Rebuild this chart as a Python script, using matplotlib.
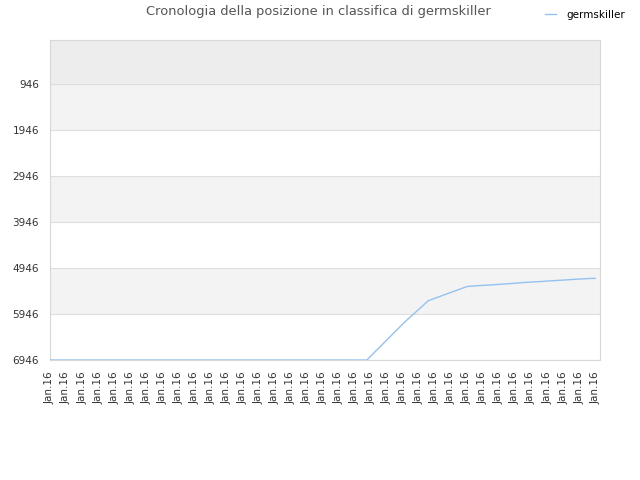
import matplotlib
matplotlib.use("Agg")
import matplotlib.pyplot as plt

# rank history (lower is better), x in tick units
pos_x = [0, 19.76, 22.15, 23.6, 26.0, 26.5, 27.55, 28.5, 29.5, 30.57, 31.5, 32.5, 33.56, 34.0]
rank = [6946, 6946, 6113, 5657, 5352, 5337, 5315, 5293, 5265, 5243, 5222, 5200, 5178, 5174]
tick_labels = ["Jan.16"] * 35
y_ticks = [946, 1946, 2946, 3946, 4946, 5946, 6946]

fig = plt.figure(figsize=(6.4, 4.8), dpi=100)
ax = fig.add_axes([50/640, 0.25, 550/640, 320/480])

# background bands
ax.axhspan(0, 946, color="#ededed", zorder=0, lw=0)
for lo in [946, 2946, 4946]:
    ax.axhspan(lo, lo + 1000, color="#f3f3f3", zorder=0, lw=0)
for y in y_ticks:
    ax.axhline(y, color="#dedede", lw=0.8, zorder=1)

ax.plot(pos_x, rank, color="#93c2f2", lw=1, label="germskiller", zorder=3)

ax.set_xlim(0, 34.3)
ax.set_ylim(6946, 0)
ax.set_yticks(y_ticks)
ax.set_yticklabels([str(v) for v in y_ticks])
ax.set_xticks(range(len(tick_labels)))
ax.set_xticklabels(tick_labels, rotation=90)
ax.tick_params(length=0, labelsize=7.5, colors="#333333")
ax.tick_params(axis="y", pad=8)
ax.tick_params(axis="x", pad=8)
for s in ax.spines.values():
    s.set_color("#d8d8d8")
    s.set_linewidth(0.8)

fig.text(318/640, 1 - 12/480, "Cronologia della posizione in classifica di germskiller",
         ha="center", va="center", fontsize=9.4, color="#555555")
fig.legend(loc="center left", bbox_to_anchor=(540/640, 1 - 15/480), frameon=False,
           fontsize=7.5, handlelength=1.0, handletextpad=1.0, borderpad=0)

fig.savefig("out.png")
